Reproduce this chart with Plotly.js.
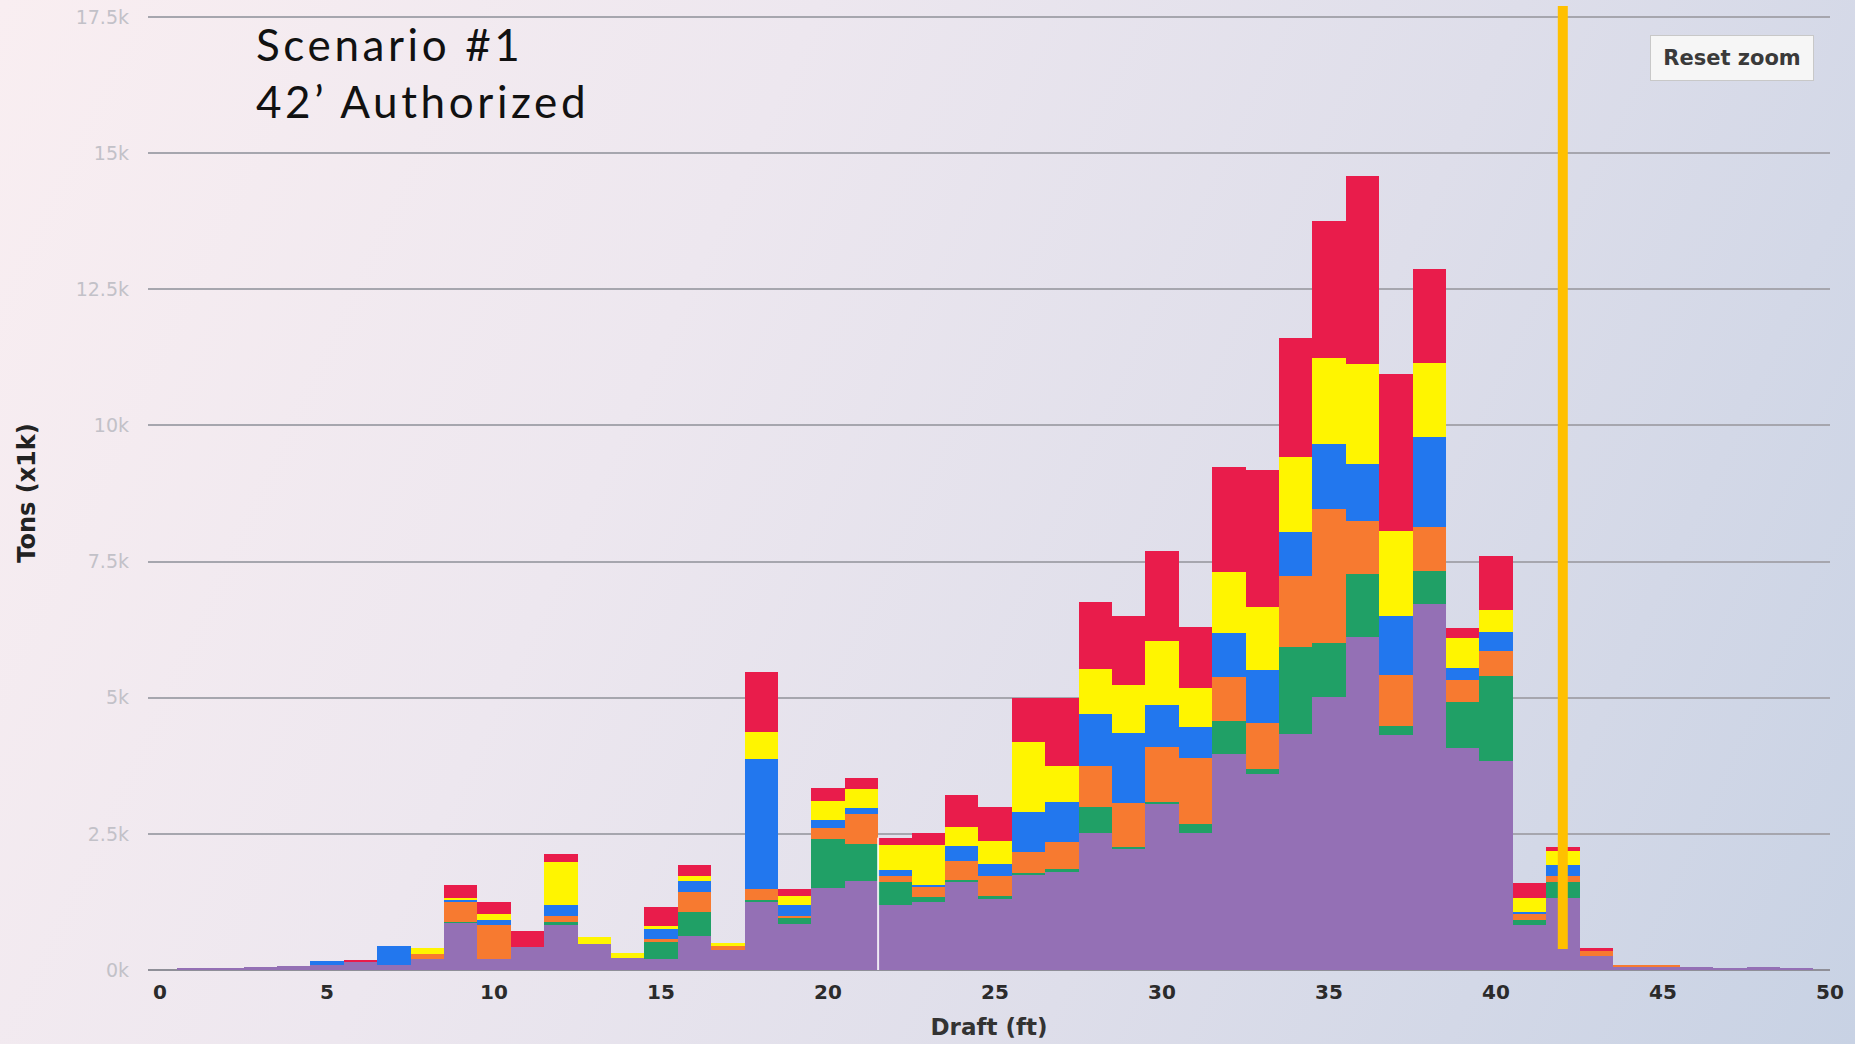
<!DOCTYPE html>
<html>
<head>
<meta charset="utf-8">
<script src="https://cdn.plot.ly/plotly-3.0.1.min.js"></script>
<style>
  html, body { margin: 0; padding: 0; }
  body {
    width: 1855px; height: 1044px; overflow: hidden;
    background: linear-gradient(115deg, #f9eef1 0%, #ede7ef 35%, #dedeea 65%, #c8d2e4 100%);
  }
  #chart { width: 1855px; height: 1044px; }
</style>
</head>
<body>
<div id="chart"></div>
<script>
// Draft bins (ft)
const drafts = [1,2,3,4,5,6,7,8,9,10,11,12,13,14,15,16,17,18,19,20,21,22,23,24,25,
                26,27,28,29,30,31,32,33,34,35,36,37,38,39,40,41,42,43,44,45,46,47,48,49];

// Tons (x1k) per series, stacked bottom to top
const purpleTons = [0.02,0.03,0.05,0.07,0.10,0.16,0.10,0.20,0.87,0.20,0.43,0.82,0.48,0.22,0.20,0.63,0.37,1.24,0.85,1.50,1.63,1.20,1.24,1.63,1.30,
                    1.74,1.80,2.52,2.24,3.06,2.52,3.97,3.60,4.34,5.02,6.12,4.32,6.73,4.08,3.84,0.82,1.32,0.25,0.05,0.06,0.05,0.03,0.05,0.03];
const greenTons  = [0,0,0,0,0,0,0,0,0.02,0,0,0.06,0,0,0.32,0.43,0,0.05,0.10,0.90,0.68,0.42,0.10,0.03,0.05,
                    0.05,0.05,0.48,0.02,0.03,0.17,0.61,0.10,1.60,0.98,1.15,0.17,0.59,0.85,1.56,0.10,0.30,0,0,0,0,0,0,0];
const orangeTons = [0,0,0,0,0,0,0,0.10,0.37,0.62,0,0.12,0,0,0.05,0.37,0.08,0.20,0.05,0.20,0.55,0.11,0.20,0.35,0.38,
                    0.38,0.50,0.74,0.80,1.00,1.20,0.80,0.83,1.30,2.47,0.98,0.93,0.82,0.40,0.45,0.10,0.10,0.10,0.05,0.02,0,0,0,0];
const blueTons   = [0,0,0,0,0.07,0,0.35,0,0.03,0.10,0,0.20,0,0,0.20,0.20,0,2.38,0.20,0.15,0.12,0.11,0.03,0.27,0.22,
                    0.73,0.74,0.96,1.30,0.78,0.57,0.80,0.98,0.80,1.19,1.04,1.09,1.65,0.22,0.35,0.05,0.20,0,0,0,0,0,0,0];
const yellowTons = [0,0,0,0,0,0,0,0.10,0.03,0.10,0,0.78,0.12,0.10,0.03,0.10,0.05,0.50,0.15,0.35,0.35,0.46,0.72,0.35,0.42,
                    1.28,0.65,0.82,0.87,1.17,0.72,1.13,1.15,1.39,1.58,1.84,1.56,1.35,0.54,0.42,0.25,0.26,0,0,0,0,0,0,0];
const redTons    = [0,0,0,0,0,0.02,0,0,0.24,0.22,0.29,0.15,0,0,0.35,0.20,0,1.10,0.13,0.24,0.20,0.13,0.23,0.58,0.63,
                    0.82,1.26,1.23,1.28,1.66,1.12,1.93,2.52,2.17,2.52,3.45,2.87,1.74,0.20,0.98,0.28,0.08,0.05,0,0,0,0,0,0];

const yTickVals = [0, 2.5, 5, 7.5, 10, 12.5, 15, 17.5];
const yTickText = ['0k','2.5k','5k','7.5k','10k','12.5k','15k','17.5k'];
const xTickVals = [0,5,10,15,20,25,30,35,40,45,50];

const authorizedDraft = 42;      // ft, vertical marker
const crosshairDraft = 21.5;     // ft, white hover line

const seriesDefs = [
  {name: 'Series 1', values: purpleTons, color: '#9470b5'},
  {name: 'Series 2', values: greenTons,  color: '#20a066'},
  {name: 'Series 3', values: orangeTons, color: '#f77a30'},
  {name: 'Series 4', values: blueTons,   color: '#2277ee'},
  {name: 'Series 5', values: yellowTons, color: '#fff500'},
  {name: 'Series 6', values: redTons,    color: '#e91c4b'}
];

const traces = seriesDefs.map(s => ({
  type: 'bar',
  name: s.name,
  x: drafts,
  y: s.values,
  width: 1,
  marker: {color: s.color, line: {width: 0}},
  hoverinfo: 'x+y+name'
}));

const totals = drafts.map((d, i) => seriesDefs.reduce((a, s) => a + s.values[i], 0));
const idxA = drafts.indexOf(Math.floor(crosshairDraft));
const idxB = drafts.indexOf(Math.ceil(crosshairDraft));
const crosshairTop = Math.min(totals[idxA], totals[idxB]);

const layout = {
  width: 1855,
  height: 1044,
  margin: {l: 148, r: 25, t: 16, b: 74, pad: 0},
  paper_bgcolor: 'rgba(0,0,0,0)',
  plot_bgcolor: 'rgba(0,0,0,0)',
  barmode: 'stack',
  bargap: 0,
  showlegend: false,
  font: {family: 'DejaVu Sans, sans-serif'},
  xaxis: {
    range: [-0.36, 50],
    tickvals: xTickVals,
    ticks: '',
    showgrid: false,
    zeroline: false,
    showline: false,
    tickfont: {family: 'DejaVu Sans, sans-serif', size: 20, color: '#2b2b2b', weight: 'bold'},
    ticklabelstandoff: 8,
    title: {text: 'Draft (ft)', font: {family: 'DejaVu Sans, sans-serif', size: 23, color: '#333333', weight: 'bold'}, standoff: 15}
  },
  yaxis: {
    range: [0, 17.52],
    tickvals: yTickVals,
    ticktext: yTickText,
    ticks: '',
    showgrid: true,
    gridcolor: '#a6a6ae',
    gridwidth: 2,
    zeroline: true,
    zerolinecolor: '#8f8f98',
    zerolinewidth: 2,
    showline: false,
    tickfont: {family: 'DejaVu Sans, sans-serif', size: 19, color: '#c2c1c8'},
    ticklabelstandoff: 18,
    title: {text: 'Tons (x1k)', font: {family: 'DejaVu Sans, sans-serif', size: 24, color: '#222222', weight: 'bold'}, standoff: 33}
  },
  shapes: [
    {
      type: 'line', xref: 'x', yref: 'y', layer: 'above',
      x0: crosshairDraft, x1: crosshairDraft, y0: 0, y1: crosshairTop,
      line: {color: 'rgba(255,255,255,0.85)', width: 2}
    },
    {
      type: 'line', xref: 'x', yref: 'paper', layer: 'above',
      x0: authorizedDraft, x1: authorizedDraft, y0: 0.022, y1: 1.0105,
      line: {color: '#ffc000', width: 10}
    }
  ],
  annotations: [
    {
      xref: 'paper', yref: 'paper', x: 0.063, y: 1.0, xanchor: 'left', yanchor: 'top',
      text: 'Scenario #1<br>42’ Authorized', showarrow: false, align: 'left',
      font: {family: 'Lato, sans-serif', size: 44, color: '#111111'}
    },
    {
      xref: 'paper', yref: 'paper', x: 0.9417, y: 0.956, xanchor: 'center', yanchor: 'middle',
      text: 'Reset zoom', showarrow: false,
      font: {family: 'DejaVu Sans, sans-serif', size: 21, color: '#3a3a3a', weight: 'bold'},
      bgcolor: '#f6f6f6', bordercolor: '#c8c8c8', borderwidth: 1, borderpad: 6,
      width: 150, height: 32
    }
  ]
};

Plotly.newPlot('chart', traces, layout, {displayModeBar: false, responsive: false}).then(() => {
  const ann = document.querySelectorAll('.annotation-text');
  if (ann.length) ann[0].style.letterSpacing = '3.6px';
});
</script>
</body>
</html>
